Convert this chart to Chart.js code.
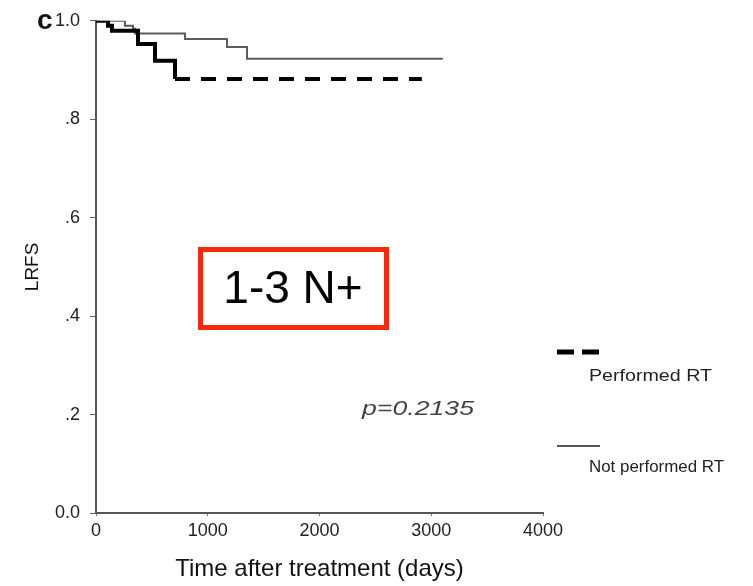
<!DOCTYPE html>
<html>
<head>
<meta charset="utf-8">
<script src="https://cdn.jsdelivr.net/npm/chart.js@4.4.1/dist/chart.umd.min.js"></script>
<style>
  html, body { margin: 0; padding: 0; background: #fff; }
  #wrap { width: 753px; height: 586px; position: relative; }
</style>
</head>
<body>
<div id="wrap"><canvas id="canvas_km"></canvas></div>
<script>
// curva com RT (tracejada grossa)
const rtDias = [0, 107, 143, 376, 528, 707, 2916];
const rtLrfs = [1.0, 0.99, 0.98, 0.953, 0.919, 0.882, 0.882];
// curva sem RT (linha fina)
const semRtDias = [0, 259, 331, 349, 796, 1172, 1351, 3104];
const semRtLrfs = [1.0, 0.99, 0.984, 0.974, 0.963, 0.947, 0.923, 0.923];

const xTicks = [0, 1000, 2000, 3000, 4000];
const yTicks = [0, 0.2, 0.4, 0.6, 0.8, 1.0];
const yTickLabels = ["0.0", ".2", ".4", ".6", ".8", "1.0"];
const legendas = ["Performed RT", "Not performed RT"];
const pValor = "p=0.2135";
const grupo = "1-3 N+";

function pontos(xs, ys) {
  let out = [];
  for (let i = 0; i < xs.length; i++) out.push({ x: xs[i], y: ys[i] });
  return out;
}

// texto esticado na horizontal para imitar o grafico escaneado
function textoLargura(ctx, txt, x, y, font, largura, cor) {
  ctx.save();
  ctx.font = font;
  ctx.fillStyle = cor;
  ctx.textBaseline = "middle";
  ctx.textAlign = "left";
  let w = ctx.measureText(txt).width;
  ctx.translate(x, y);
  ctx.scale(largura / w, 1);
  ctx.fillText(txt, 0, 0);
  ctx.restore();
}

const extras = {
  id: "extras",
  afterDraw(chart) {
    const ctx = chart.ctx;
    // letra do painel
    ctx.save();
    ctx.font = "bold 28px 'Liberation Sans', Arial, sans-serif";
    ctx.fillStyle = "#111";
    ctx.textBaseline = "middle";
    ctx.fillText("c", 37, 21);
    ctx.restore();

    // valor p
    textoLargura(ctx, pValor, 362, 409, "italic 21px 'Liberation Sans', Arial, sans-serif", 112, "#444");

    // caixa vermelha
    ctx.save();
    ctx.strokeStyle = "#f52a0c";
    ctx.lineWidth = 5;
    ctx.strokeRect(200.5, 249.5, 186, 78);
    ctx.font = "46px 'Liberation Sans', Arial, sans-serif";
    ctx.fillStyle = "#000";
    ctx.textAlign = "center";
    ctx.textBaseline = "middle";
    ctx.fillText(grupo, 293, 290);
    ctx.restore();

    // legenda
    ctx.save();
    ctx.strokeStyle = "#000";
    ctx.lineWidth = 5;
    ctx.setLineDash([17, 8]);
    ctx.beginPath();
    ctx.moveTo(557, 352);
    ctx.lineTo(600, 352);
    ctx.stroke();
    ctx.setLineDash([]);
    ctx.strokeStyle = "#555";
    ctx.lineWidth = 2;
    ctx.beginPath();
    ctx.moveTo(557, 446);
    ctx.lineTo(600, 446);
    ctx.stroke();
    ctx.restore();
    textoLargura(ctx, legendas[0], 589, 376, "17px 'Liberation Sans', Arial, sans-serif", 123, "#222");
    textoLargura(ctx, legendas[1], 589, 467, "17px 'Liberation Sans', Arial, sans-serif", 135, "#222");
  }
};

const ctx = document.getElementById("canvas_km").getContext("2d");
window.km = new Chart(ctx, {
  type: "line",
  data: {
    datasets: [
      {
        label: legendas[0],
        data: pontos(rtDias, rtLrfs),
        borderColor: "#000",
        borderWidth: 4,
        stepped: "before",
        pointRadius: 0,
        fill: false,
        segment: {
          borderDash: (c) => (c.p1DataIndex == rtDias.length - 1 ? [15, 11] : undefined),
        },
      },
      {
        label: legendas[1],
        data: pontos(semRtDias, semRtLrfs),
        borderColor: "#5c5c5c",
        borderWidth: 2,
        stepped: "before",
        pointRadius: 0,
        fill: false,
      },
    ],
  },
  options: {
    responsive: true,
    maintainAspectRatio: false,
    animation: false,
    layout: { padding: { top: 20, right: 210, left: 0, bottom: 0 } },
    plugins: {
      legend: { display: false },
      tooltip: { enabled: false },
    },
    scales: {
      x: {
        type: "linear",
        min: 0,
        max: 4000,
        afterBuildTicks: (s) => { s.ticks = xTicks.map((v) => ({ value: v })); },
        afterFit: (s) => { s.height = 73; },
        ticks: {
          color: "#222",
          font: { family: "'Liberation Sans', Arial, sans-serif", size: 18 },
          padding: 4,
          maxRotation: 0,
          callback: (v) => String(v),
        },
        grid: { drawOnChartArea: false, drawTicks: true, tickLength: 3, color: "#777" },
        border: { display: true, color: "#555", width: 2 },
        title: {
          display: true,
          text: "Time after treatment (days)",
          color: "#111",
          font: { family: "'Liberation Sans', Arial, sans-serif", size: 24 },
          padding: { top: 0, bottom: 2 },
        },
      },
      y: {
        type: "linear",
        min: 0,
        max: 1,
        afterBuildTicks: (s) => { s.ticks = yTicks.map((v) => ({ value: v })); },
        afterFit: (s) => { s.width = 96; },
        ticks: {
          color: "#222",
          font: { family: "'Liberation Sans', Arial, sans-serif", size: 18 },
          padding: 10,
          callback: (v) => yTickLabels[yTicks.indexOf(Math.round(v * 10) / 10)],
        },
        grid: { drawOnChartArea: false, drawTicks: true, tickLength: 6, color: "#666" },
        border: { display: true, color: "#555", width: 2 },
        title: {
          display: true,
          text: "LRFS",
          color: "#111",
          font: { family: "'Liberation Sans', Arial, sans-serif", size: 19 },
          padding: { top: 21, bottom: 0 },
        },
      },
    },
  },
  plugins: [extras],
});
</script>
</body>
</html>
